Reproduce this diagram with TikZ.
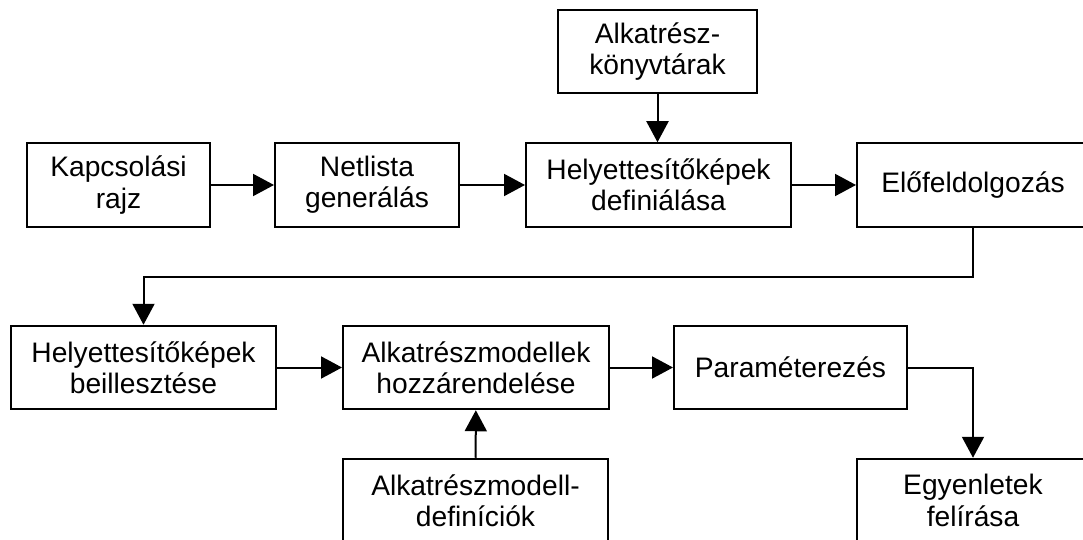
\documentclass[tikz,border=0pt]{standalone}
\usepackage{fontspec}
\setmainfont{Liberation Sans}
\usetikzlibrary{arrows.meta}
\begin{document}
\begin{tikzpicture}[x=.5pt,y=-.5pt,
    lepes/.style={draw,line width=1pt,align=center,inner sep=0pt,minimum height=41.75pt,
                  font=\fontsize{14.1}{15.6}\selectfont},
    nyil/.style={line width=1pt,-{Triangle[length=10.5pt,width=11pt]}}]
  \path[use as bounding box] (0,0) rectangle (1083,540);
  \clip (0,0) rectangle (1083,540);
  \node[lepes,minimum width=91.5pt] (kapcs) at (118.5,185) {Kapcsolási\\rajz};
  \node[lepes,minimum width=92pt] (netl) at (367,185) {Netlista\\generálás};
  \node[lepes,minimum width=132.5pt] (hdef) at (658.5,185) {Helyettesítőképek\\definiálása};
  \node[lepes,minimum width=116pt] (elof) at (973,185) {Előfeldolgozás};
  \node[lepes,minimum width=99.5pt] (konyv) at (657.5,51.5) {Alkatrész-\\könyvtárak};
  \node[lepes,minimum width=132.5pt] (beill) at (143.5,367.5) {Helyettesítőképek\\beillesztése};
  \node[lepes,minimum width=133pt] (hozz) at (476,367.5) {Alkatrészmodellek\\hozzárendelése};
  \node[lepes,minimum width=116.5pt] (param) at (790.5,367.5) {Paraméterezés};
  \node[lepes,minimum width=132.5pt] (defin) at (475.5,500.5) {Alkatrészmodell-\\definíciók};
  \node[lepes,minimum width=116pt] (egyen) at (973,500.5) {Egyenletek\\felírása};
  \draw[nyil] (kapcs) -- (netl);
  \draw[nyil] (netl) -- (hdef);
  \draw[nyil] (hdef) -- (elof);
  \draw[nyil] (konyv) -- (konyv |- hdef.north);
  \draw[nyil] (elof.south) -- ++(0,49) -| (beill.north);
  \draw[nyil] (beill) -- (hozz);
  \draw[nyil] (hozz) -- (param);
  \draw[nyil] (param.east) -| (egyen.north);
  \draw[nyil] (defin) -- (hozz);
\end{tikzpicture}
\end{document}
